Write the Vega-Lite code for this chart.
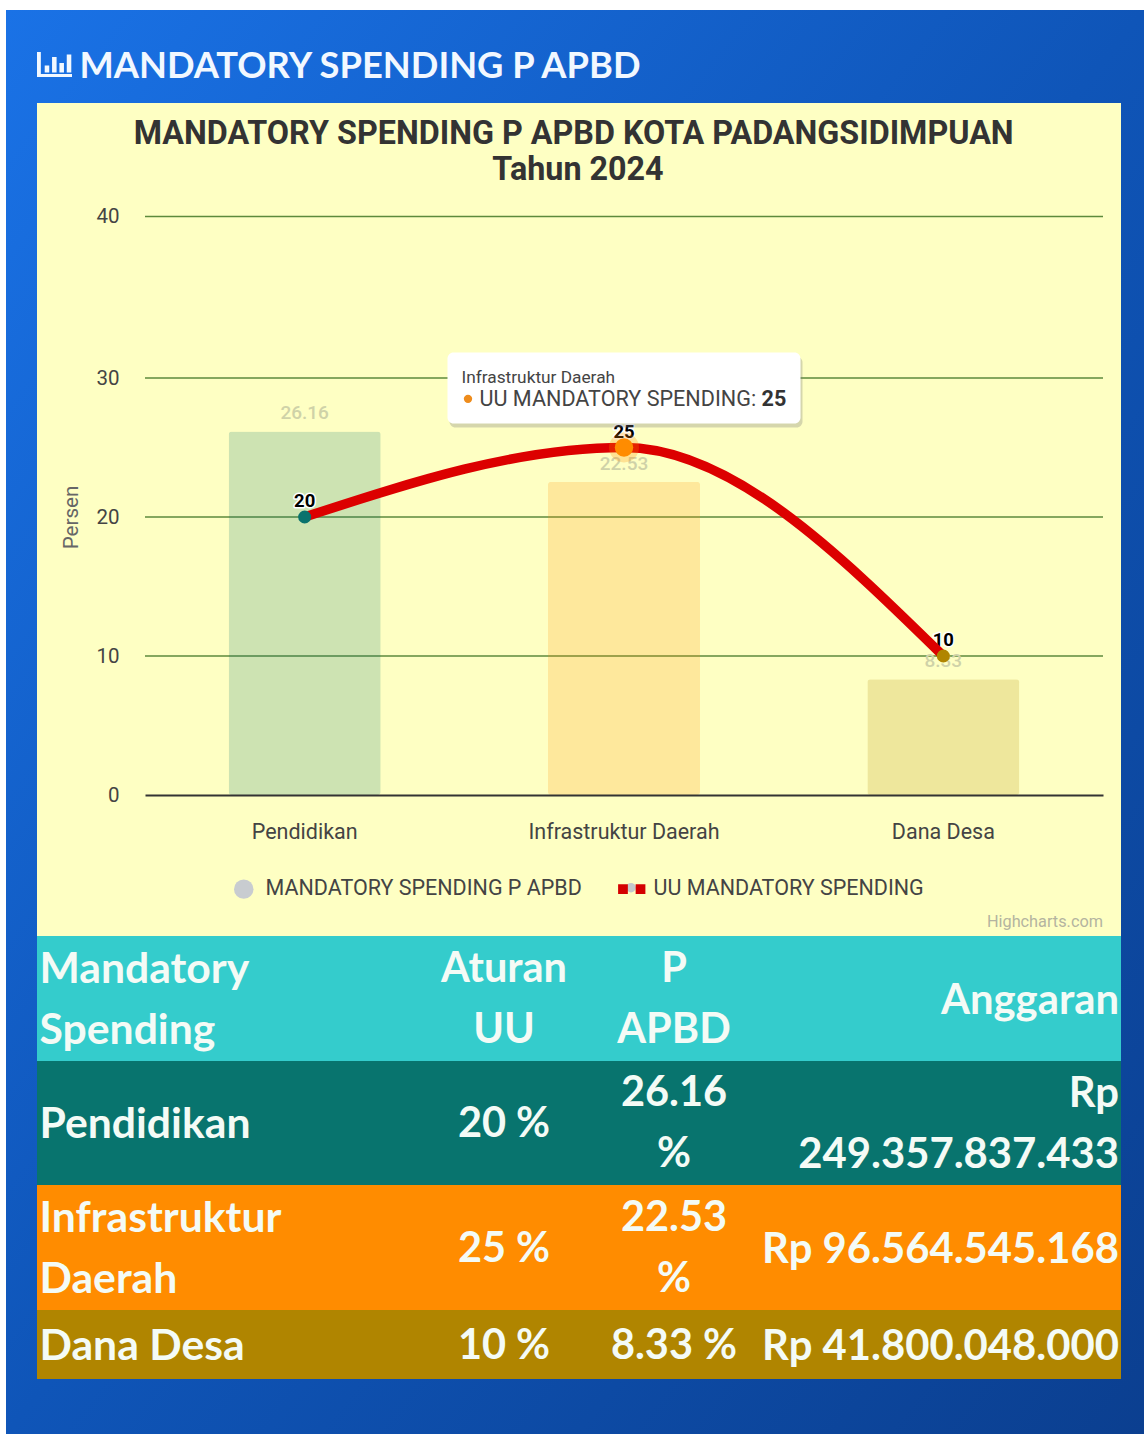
{
"$schema":"https://vega.github.io/schema/vega-lite/v6.json",
"width":1144,"height":1434,"padding":0,"autosize":{"type":"none"},"background":"#ffffff",
"config":{"view":{"stroke":null},"text":{"font":"Roboto"}},
"datasets":{
"bands":[
{"section":"panel","left":0,"right":5,"top":-1,"bottom":0},
{"section":"header","left":0,"right":5,"top":0,"bottom":1},
{"section":"Pendidikan","left":0,"right":5,"top":1,"bottom":2},
{"section":"Infrastruktur Daerah","left":0,"right":5,"top":2,"bottom":3},
{"section":"Dana Desa","left":0,"right":5,"top":3,"bottom":4}],
"cells":[
{"kind":"left","col":1,"row":0.256,"text":"Mandatory"},
{"kind":"left","col":1,"row":0.744,"text":"Spending"},
{"kind":"center","col":2,"row":0.256,"text":"Aturan"},
{"kind":"center","col":2,"row":0.744,"text":"UU"},
{"kind":"center","col":3,"row":0.256,"text":"P"},
{"kind":"center","col":3,"row":0.744,"text":"APBD"},
{"kind":"right","col":4,"row":0.5,"text":"Anggaran"},
{"kind":"left","col":1,"row":1.5,"text":"Pendidikan"},
{"kind":"center","col":2,"row":1.5,"text":"20 %"},
{"kind":"center","col":3,"row":1.25,"text":"26.16"},
{"kind":"center","col":3,"row":1.742,"text":"%"},
{"kind":"right","col":4,"row":1.25,"text":"Rp"},
{"kind":"right","col":4,"row":1.742,"text":"249.357.837.433"},
{"kind":"left","col":1,"row":2.256,"text":"Infrastruktur"},
{"kind":"left","col":1,"row":2.744,"text":"Daerah"},
{"kind":"center","col":2,"row":2.5,"text":"25 %"},
{"kind":"center","col":3,"row":2.256,"text":"22.53"},
{"kind":"center","col":3,"row":2.744,"text":"%"},
{"kind":"right","col":4,"row":2.5,"text":"Rp 96.564.545.168"},
{"kind":"left","col":1,"row":3.5,"text":"Dana Desa"},
{"kind":"center","col":2,"row":3.5,"text":"10 %"},
{"kind":"center","col":3,"row":3.5,"text":"8.33 %"},
{"kind":"right","col":4,"row":3.5,"text":"Rp 41.800.048.000"}],
"icon":[
{"x0":0,"x1":1.1,"y0":0,"y1":10},
{"x0":0,"x1":10,"y0":0,"y1":1.2},
{"x0":2.2,"x1":3.5,"y0":1.8,"y1":4.6},
{"x0":4.3,"x1":5.6,"y0":1.8,"y1":8},
{"x0":6.4,"x1":7.7,"y0":1.8,"y1":5.6},
{"x0":8.5,"x1":9.8,"y0":1.8,"y1":9}],
"spending":[
{"kategori":"Pendidikan","uu":20,"apbd":26.16},
{"kategori":"Infrastruktur Daerah","uu":25,"apbd":22.53},
{"kategori":"Dana Desa","uu":10,"apbd":8.33}]
},
"resolve":{"scale":{"x":"independent","y":"independent","color":"independent","fill":"independent","shape":"independent"},"axis":{"x":"independent","y":"independent"}},
"layer":[
{
"encoding":{
"x":{"field":"left","type":"quantitative","axis":null,"scale":{"domain":[-1,0,1,2,3,4,5,6],"range":[6,37,39.5,504,674,1119,1121,1144],"nice":false,"zero":false}},
"y":{"field":"top","type":"quantitative","axis":null,"scale":{"domain":[-2,-1,0,1,2,3,4,5],"range":[10,103,936,1061,1185,1310,1379,1434],"nice":false,"zero":false}}
},
"layer":[
{"data":{"values":[{"left":-1,"right":6,"top":-2,"bottom":5}]},
"mark":{"type":"rect","fill":{"gradient":"linear","x1":0,"y1":0,"x2":1,"y2":1,"stops":[{"offset":0,"color":"#1a72e6"},{"offset":0.5,"color":"#0f55b8"},{"offset":1,"color":"#0b3f90"}]}},
"encoding":{"x2":{"field":"right"},"y2":{"field":"bottom"}}},
{"data":{"name":"bands"},"mark":{"type":"rect"},
"encoding":{"x2":{"field":"right"},"y2":{"field":"bottom"},
"color":{"field":"section","type":"nominal","legend":null,"scale":{"domain":["panel","header","Pendidikan","Infrastruktur Daerah","Dana Desa"],"range":["#feffc3","#34cccc","#08746e","#ff8c00","#b08500"]}}}},
{"data":{"values":[{"left":1.086,"top":-1.39,"text":"MANDATORY SPENDING P APBD"}]},
"mark":{"type":"text","font":"Lato","fontSize":36.3,"fontWeight":"bold","align":"left","baseline":"middle","fill":"#f2f8ff"},
"encoding":{"text":{"field":"text"}}},
{"data":{"values":[{"left":2.41,"top":-0.9625,"text":"MANDATORY SPENDING P APBD KOTA PADANGSIDIMPUAN"},{"left":2.435,"top":-0.9195,"text":"Tahun 2024"}]},
"mark":{"type":"text","font":"Roboto","fontSize":32.3,"fontWeight":"bold","align":"center","baseline":"middle","fill":"#333333"},
"encoding":{"text":{"field":"text"}}},
{"data":{"values":[{"left":3.964,"top":-0.0168,"text":"Highcharts.com"}]},
"mark":{"type":"text","font":"Roboto","fontSize":16.3,"align":"right","baseline":"middle","fill":"#b4b4a0"},
"encoding":{"text":{"field":"text"}}},
{"data":{"values":[{"left":2.747,"top":-0.058}]},
"mark":{"type":"point","filled":true,"size":90,"opacity":1,"fill":"#c4c8cc"}},
{"data":{"name":"cells"},"transform":[{"filter":"datum.kind==='left'"}],
"mark":{"type":"text","font":"Lato","fontSize":42.7,"fontWeight":"bold","align":"left","baseline":"middle","dy":2,"fill":"#f4fbf6"},
"encoding":{"x":{"field":"col","type":"quantitative"},"y":{"field":"row","type":"quantitative"},"text":{"field":"text"}}},
{"data":{"name":"cells"},"transform":[{"filter":"datum.kind==='center'"}],
"mark":{"type":"text","font":"Lato","fontSize":41.5,"fontWeight":"bold","align":"center","baseline":"middle","dy":2,"fill":"#f4fbf6"},
"encoding":{"x":{"field":"col","type":"quantitative"},"y":{"field":"row","type":"quantitative"},"text":{"field":"text"}}},
{"data":{"name":"cells"},"transform":[{"filter":"datum.kind==='right'"}],
"mark":{"type":"text","font":"Lato","fontSize":41.8,"fontWeight":"bold","align":"right","baseline":"middle","dy":2,"fill":"#f4fbf6"},
"encoding":{"x":{"field":"col","type":"quantitative"},"y":{"field":"row","type":"quantitative"},"text":{"field":"text"}}}
]
},
{
"data":{"name":"icon"},
"mark":{"type":"rect","fill":"#f2f8ff"},
"encoding":{
"x":{"field":"x0","type":"quantitative","axis":null,"scale":{"domain":[0,10],"range":[37,72],"nice":false}},
"x2":{"field":"x1"},
"y":{"field":"y0","type":"quantitative","axis":null,"scale":{"domain":[0,10],"range":[77,52],"nice":false}},
"y2":{"field":"y1"}
}
},
{
"data":{"values":[{"tick":10,"a":0,"b":1},{"tick":20,"a":0,"b":1},{"tick":30,"a":0,"b":1},{"tick":40,"a":0,"b":1}]},
"mark":{"type":"rule","stroke":"#5d8a3c","strokeWidth":1.5},
"encoding":{
"x":{"field":"a","type":"quantitative","axis":null,"scale":{"domain":[0,1],"range":[145,1103],"nice":false}},
"x2":{"field":"b"},
"y":{"field":"tick","type":"quantitative","axis":null,"scale":{"domain":[0,30,40],"range":[795,378,216.5],"nice":false,"zero":false}}
}
},
{
"data":{"name":"spending"},
"encoding":{
"x":{"field":"kategori","type":"nominal","title":null,"sort":null,
"scale":{"type":"band","domain":["Pendidikan","Infrastruktur Daerah","Dana Desa"],"range":[145,1103],"paddingInner":0.524,"paddingOuter":0.262},
"axis":{"offset":-639,"zindex":1,"labelAngle":0,"labelLimit":400,"ticks":false,"domainColor":"#333333","domainWidth":2,"labelFont":"Roboto","labelFontSize":21.5,"labelColor":"#444444","labelPadding":26,"grid":false}}
},
"layer":[
{"mark":{"type":"bar","opacity":0.2,"cornerRadius":3},
"encoding":{
"y":{"field":"apbd","type":"quantitative","title":"Persen",
"scale":{"domain":[0,30,40],"range":[795,378,216],"nice":false,"zero":false},
"axis":{"offset":-125,"zindex":1,"values":[0,10,20,30,40],"ticks":false,"domain":false,"grid":false,"labelFont":"Roboto","labelFontSize":20.5,"labelColor":"#444444","labelPadding":6,"titleFont":"Roboto","titleFontSize":20.6,"titleFontWeight":"normal","titleColor":"#666666","titlePadding":14,"titleY":517}},
"fill":{"field":"kategori","type":"nominal","legend":null,"scale":{"domain":["Pendidikan","Infrastruktur Daerah","Dana Desa"],"range":["#0a726d","#ff8c00","#b08500"]}}}},
{"mark":{"type":"text","font":"Roboto","fontSize":19,"fontWeight":500,"dy":-18,"fill":"#cfd2a8"},
"encoding":{"y":{"field":"apbd","type":"quantitative"},"text":{"field":"apbd","type":"quantitative","format":".2f"}}},
{"mark":{"type":"text","font":"Roboto","fontSize":18.5,"fontWeight":"bold","dy":-16,"stroke":"#ffffff","strokeWidth":3,"strokeJoin":"round","fill":"#ffffff"},
"encoding":{"y":{"field":"uu","type":"quantitative"},"text":{"field":"uu","type":"quantitative"}}},
{"mark":{"type":"text","font":"Roboto","fontSize":18.5,"fontWeight":"bold","dy":-16,"fill":"#000000"},
"encoding":{"y":{"field":"uu","type":"quantitative"},"text":{"field":"uu","type":"quantitative"}}},
{"mark":{"type":"line","interpolate":"monotone","stroke":"#dc0000","strokeWidth":9.5},
"encoding":{"y":{"field":"uu","type":"quantitative"}}},
{"transform":[{"filter":"datum.kategori==='Infrastruktur Daerah'"}],
"mark":{"type":"point","filled":true,"size":900,"opacity":0.25},
"encoding":{"y":{"field":"uu","type":"quantitative"},"fill":{"field":"kategori","type":"nominal"}}},
{"mark":{"type":"point","filled":true,"opacity":1},
"encoding":{"y":{"field":"uu","type":"quantitative"},
"fill":{"field":"kategori","type":"nominal"},
"size":{"condition":{"test":"datum.kategori==='Infrastruktur Daerah'","value":340},"value":170}}},
{"data":{"values":[{"series":"MANDATORY SPENDING P APBD"},{"series":"UU MANDATORY SPENDING"}]},
"mark":{"type":"point","filled":true,"opacity":0,"size":1},
"encoding":{"x":{"datum":"Pendidikan"},"y":{"datum":0},
"color":{"field":"series","type":"nominal","scale":{"domain":["MANDATORY SPENDING P APBD","UU MANDATORY SPENDING"],"range":["#c8ccd0","#d40000"]},
"legend":{"title":null,"orient":"none","legendX":233,"legendY":878,"direction":"horizontal","columns":2,"symbolSize":380,"symbolOpacity":1,"labelFont":"Roboto","labelFontSize":21.5,"labelColor":"#444444","labelLimit":500,"labelOffset":11,"columnPadding":36,"symbolStrokeWidth":0}},
"shape":{"field":"series","type":"nominal","scale":{"domain":["MANDATORY SPENDING P APBD","UU MANDATORY SPENDING"],"range":["circle","M-1.4,-0.5H-0.4V0.5H-1.4ZM0.4,-0.5H1.4V0.5H0.4Z"]},
"legend":{"title":null,"orient":"none","legendX":233,"legendY":878,"direction":"horizontal","columns":2,"symbolSize":380,"symbolOpacity":1,"labelFont":"Roboto","labelFontSize":21.5,"labelColor":"#444444","labelLimit":500,"labelOffset":11,"columnPadding":36,"symbolStrokeWidth":0}}}},
{"data":{"values":[{"kategori":"Infrastruktur Daerah","y":29.2}]},
"mark":{"type":"rect","width":353,"height":71,"cornerRadius":6,"fill":"#777777","opacity":0.3,"xOffset":2,"yOffset":3},
"encoding":{"y":{"field":"y","type":"quantitative"}}},
{"data":{"values":[{"kategori":"Infrastruktur Daerah","y":29.28}]},
"mark":{"type":"rect","width":353,"height":71,"cornerRadius":6,"fill":"#ffffff","opacity":1},
"encoding":{"y":{"field":"y","type":"quantitative"}}},
{"data":{"values":[{"kategori":"Infrastruktur Daerah","y":30,"text":"Infrastruktur Daerah"}]},
"mark":{"type":"text","font":"Roboto","fontSize":17.3,"align":"left","baseline":"middle","dx":-162.5,"fill":"#444444"},
"encoding":{"y":{"field":"y","type":"quantitative"},"text":{"field":"text"}}},
{"data":{"values":[{"kategori":"Infrastruktur Daerah","y":28.42,"text":"UU MANDATORY SPENDING:"}]},
"mark":{"type":"text","font":"Roboto","fontSize":21.6,"align":"left","baseline":"middle","dx":-144.5,"fill":"#444444"},
"encoding":{"y":{"field":"y","type":"quantitative"},"text":{"field":"text"}}},
{"data":{"values":[{"kategori":"Infrastruktur Daerah","y":28.42,"text":"25"}]},
"mark":{"type":"text","font":"Roboto","fontSize":21.6,"fontWeight":"bold","align":"left","baseline":"middle","dx":137.5,"fill":"#333333"},
"encoding":{"y":{"field":"y","type":"quantitative"},"text":{"field":"text"}}},
{"data":{"values":[{"kategori":"Infrastruktur Daerah","y":28.5}]},
"mark":{"type":"point","filled":true,"size":70,"opacity":1,"xOffset":-156,"fill":"#ee8c1c"},
"encoding":{"y":{"field":"y","type":"quantitative"}}}
]
}
]
}
